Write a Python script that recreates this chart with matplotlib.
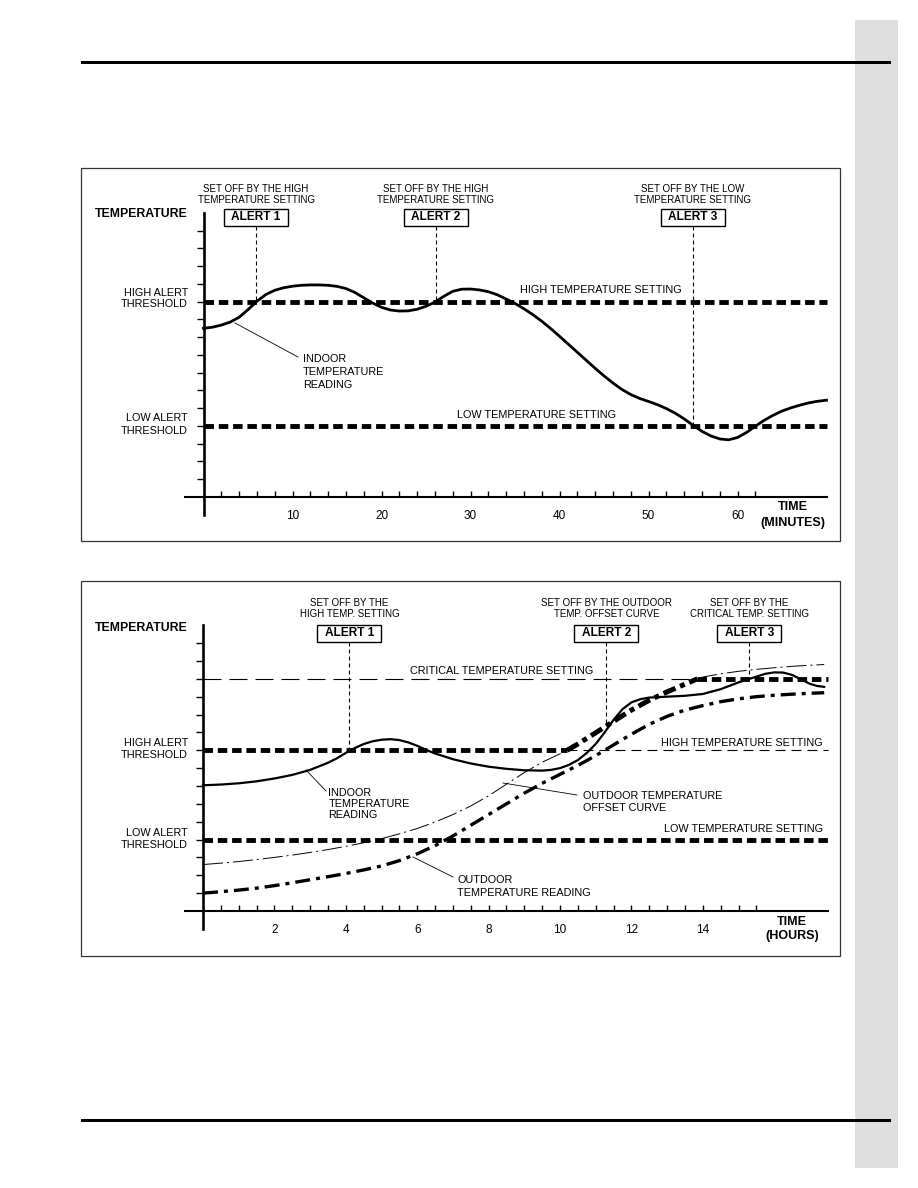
import numpy as np
import matplotlib
matplotlib.use("Agg")
import matplotlib.pyplot as plt
import matplotlib.transforms as mtransforms
from matplotlib.patches import Rectangle

plt.rcParams['font.family'] = ['Liberation Sans', 'DejaVu Sans']

# top chart: indoor temperature against time in minutes (tick units on the y axis)
minutes = list(range(0, 71))
indoor_min = [9.5, 9.56, 9.68, 9.85, 10.12, 10.55, 11.02, 11.4, 11.64, 11.78,
              11.87, 11.92, 11.94, 11.94, 11.92, 11.86, 11.74, 11.52, 11.22, 10.92,
              10.68, 10.53, 10.47, 10.48, 10.57, 10.74, 10.97, 11.3, 11.58, 11.7,
              11.71, 11.66, 11.56, 11.39, 11.15, 10.9, 10.6, 10.27, 9.9, 9.49,
              9.05, 8.6, 8.15, 7.7, 7.25, 6.82, 6.42, 6.06, 5.77, 5.55,
              5.38, 5.2, 4.98, 4.72, 4.4, 4.04, 3.7, 3.44, 3.27, 3.22,
              3.35, 3.63, 3.98, 4.32, 4.6, 4.84, 5.02, 5.17, 5.3, 5.39, 5.45]
min_ticks = np.arange(2, 63, 2)
min_labels = [10, 20, 30, 40, 50, 60]
min_end = 70.1
high_min = 11
low_min = 4
alerts_min = [5.9, 26.1, 55.0]
alerts_min_level = [high_min, high_min, low_min]
alerts_min_note = [("SET OFF BY THE HIGH", "TEMPERATURE SETTING"),
                   ("SET OFF BY THE HIGH", "TEMPERATURE SETTING"),
                   ("SET OFF BY THE LOW", "TEMPERATURE SETTING")]

# bottom chart: time in hours
hours_in = [0, 0.5, 1, 1.5, 2, 2.5, 3, 3.5, 3.75, 4, 4.25, 4.5, 4.75, 5, 5.25,
            5.5, 5.75, 6, 6.25, 6.5, 7, 7.5, 8, 8.5, 9, 9.5, 9.75, 10, 10.25,
            10.5, 10.75, 11, 11.25, 11.5, 11.75, 12, 12.25, 12.5, 13, 13.5, 14,
            14.5, 15, 15.5, 15.75, 16, 16.25, 16.5, 16.75, 17, 17.2, 17.4]
indoor_hr = [7.04, 7.08, 7.15, 7.26, 7.42, 7.62, 7.9, 8.3, 8.55, 8.85, 9.12,
             9.35, 9.5, 9.59, 9.62, 9.57, 9.44, 9.25, 9.02, 8.82, 8.5, 8.26,
             8.08, 7.96, 7.88, 7.86, 7.9, 8.0, 8.18, 8.45, 8.85, 9.35, 10.0,
             10.7, 11.3, 11.68, 11.86, 11.95, 12.0, 12.05, 12.15, 12.42, 12.8,
             13.12, 13.28, 13.36, 13.35, 13.22, 12.97, 12.72, 12.6, 12.55]
hours = [0, 0.5, 1, 1.5, 2, 2.5, 3, 3.5, 4, 4.5, 5, 5.5, 6, 6.5, 7, 7.5, 8, 8.5,
         9, 9.5, 10, 10.5, 11, 11.5, 12, 12.5, 13, 13.5, 14, 14.5, 15, 15.5, 16,
         16.5, 17, 17.4]
outdoor_hr = [1.0, 1.08, 1.17, 1.28, 1.42, 1.58, 1.75, 1.92, 2.1, 2.3, 2.52, 2.82,
              3.2, 3.66, 4.2, 4.8, 5.4, 6.0, 6.6, 7.15, 7.65, 8.15, 8.7, 9.3, 9.9,
              10.45, 10.9, 11.25, 11.5, 11.72, 11.88, 12.0, 12.08, 12.14, 12.19,
              12.22]
hours_off = [0, 0.5, 1, 1.5, 2, 2.5, 3, 3.5, 4, 4.5, 5, 5.5, 6, 6.5, 7, 7.5, 8,
             8.5, 9, 9.5, 10, 10.2, 10.5, 11, 11.5, 12, 12.5, 13, 13.5, 13.85, 14,
             14.5, 15, 15.5, 16, 16.5, 17, 17.4]
offset_hr = [2.6, 2.68, 2.77, 2.88, 3.0, 3.13, 3.28, 3.44, 3.62, 3.82, 4.05, 4.32,
             4.62, 4.98, 5.4, 5.88, 6.45, 7.1, 7.75, 8.33, 8.8, 9.0, 9.35, 9.98,
             10.62, 11.25, 11.8, 12.27, 12.7, 13.0, 13.1, 13.28, 13.42, 13.53,
             13.62, 13.7, 13.76, 13.8]
hr_ticks = np.arange(0.5, 15.6, 0.5)
hr_labels = [2, 4, 6, 8, 10, 12, 14]
hr_end = 17.5
high_hr = 9
low_hr = 4
crit_hr = 13
offset_on = 10.2     # offset curve climbs past the high setting
offset_off = 13.85   # offset curve reaches the critical setting
alerts_hr = [4.1, 11.3, 15.3]
alerts_hr_note = [("SET OFF BY THE", "HIGH TEMP. SETTING"),
                  ("SET OFF BY THE OUTDOOR", "TEMP. OFFSET CURVE"),
                  ("SET OFF BY THE", "CRITICAL TEMP. SETTING")]

W, H = 918, 1188
fig = plt.figure(figsize=(W / 100, H / 100), dpi=100)
# pixel coordinates measured from the top left corner of the page
pix = mtransforms.Affine2D().scale(1, -1).translate(0, H)


def dash(lw, *px):
    # dash lengths in pixels -> multiples of the line width
    lw_px = lw * 100 / 72
    return [p / lw_px for p in px]


THICK = dict(color='k', lw=3.5, dashes=dash(3.5, 9.5, 4.8))
CRIT_THIN = dict(color='k', lw=0.8, dashes=dash(0.8, 18, 8))
HIGH_THIN = dict(color='k', lw=0.8, dashes=dash(0.8, 10, 6))
VERT = dict(color='k', lw=0.8, dashes=dash(0.8, 4, 3))
OFF_THIN = dict(color='k', lw=0.7, dashes=dash(0.7, 20, 4, 2, 4))
OFF_THICK = dict(color='k', lw=3.6, dashes=dash(3.6, 13, 5, 5, 5))
OUTDOOR = dict(color='k', lw=2.4, dashes=dash(2.4, 15, 6, 4, 6))

# page furniture
fig.add_artist(Rectangle((855, 20), 43, 1148, transform=pix, fc='#dedede', ec='none'))
fig.add_artist(Rectangle((81, 60.5), 810, 3, transform=pix, fc='k', ec='none'))
fig.add_artist(Rectangle((81, 1119), 810, 3, transform=pix, fc='k', ec='none'))


def chart(box, x0, y0, sx, sy, xbounds, ticks, labels):
    l, t, r, b = box
    ax = fig.add_axes([l / W, 1 - b / H, (r - l) / W, (b - t) / H])
    ax.set_xlim((l - x0) / sx, (r - x0) / sx)
    ax.set_ylim((y0 - b) / sy, (y0 - t) / sy)
    ax.patch.set_visible(False)
    for side in ('top', 'right'):
        ax.spines[side].set_visible(False)
    ax.spines['left'].set_position(('data', 0))
    ax.spines['bottom'].set_position(('data', 0))
    ax.spines['left'].set_bounds(-1, 16)
    ax.spines['bottom'].set_bounds(*xbounds)
    ax.spines['left'].set_linewidth(1.9)
    ax.spines['bottom'].set_linewidth(1.5)
    ax.set_yticks(range(1, 16))
    ax.set_yticklabels([])
    ax.set_xticks(ticks)
    ax.set_xticklabels([f"{t:g}" if t in labels else "" for t in ticks])
    ax.tick_params(axis='y', direction='out', length=5, width=1.0)
    ax.tick_params(axis='x', direction='in', length=4, width=1.0, pad=9.5,
                   labelsize=8.5)
    ax.add_patch(Rectangle((0, 0), 1, 1, transform=ax.transAxes, fill=False,
                           ec='#333333', lw=0.9, clip_on=False))
    return ax


def to_px(ax, x, y):
    dx, dy = ax.transData.transform((x, y))
    return dx, H - dy


def say(ax, x, y, s, size=7.8, ha='left', weight='normal'):
    ax.text(x, y, s, transform=pix, ha=ha, va='center', fontsize=size,
            fontweight=weight)


def leader(ax, x1, y1, x2, y2):
    ax.plot([x1, x2], [y1, y2], transform=pix, color='k', lw=0.6, clip_on=False)


def alert(ax, n, x, level, note, box_top, note_y):
    px, py = to_px(ax, x, level)
    ax.add_patch(Rectangle((px - 32, box_top), 64, 17, transform=pix, fc='white',
                           ec='k', lw=1.0, clip_on=False))
    say(ax, px, box_top + 8.5, f"ALERT {n}", 8.6, 'center', 'bold')
    for s, y in zip(note, note_y):
        say(ax, px, y, s, 7.0, 'center')
    ax.plot([px, px], [box_top + 17, py], transform=pix, **VERT)


# ---------------- top chart ----------------
ax1 = chart((81, 168, 840, 541), 203.5, 497, 8.9, 17.76, (-2.1, min_end),
            min_ticks, min_labels)
ax1.plot([0, min_end], [high_min, high_min], **THICK)
ax1.plot([0, min_end], [low_min, low_min], **THICK)
ax1.plot(minutes, indoor_min, color='k', lw=2.0, solid_joinstyle='round')
for i, (x, lev, note) in enumerate(zip(alerts_min, alerts_min_level, alerts_min_note)):
    alert(ax1, i + 1, x, lev, note, 209, (189, 200))

say(ax1, 188, 214, "TEMPERATURE", 8.8, 'right', 'bold')
say(ax1, 188, 292.7, "HIGH ALERT", 7.8, 'right')
say(ax1, 188, 304.3, "THRESHOLD", 7.8, 'right')
say(ax1, 188, 418.3, "LOW ALERT", 7.8, 'right')
say(ax1, 188, 430.7, "THRESHOLD", 7.8, 'right')
say(ax1, 520, 290, "HIGH TEMPERATURE SETTING")
say(ax1, 457, 415, "LOW TEMPERATURE SETTING")
for s, y in zip(["INDOOR", "TEMPERATURE", "READING"], [359.5, 372.3, 385]):
    say(ax1, 302.7, y, s)
leader(ax1, 235, 323, 298, 357)
say(ax1, 793, 507, "TIME", 9, 'center', 'bold')
say(ax1, 793, 523, "(MINUTES)", 9, 'center', 'bold')

# ---------------- bottom chart ----------------
ax2 = chart((81, 581, 840, 956), 203, 911, 35.7, 17.86, (-0.5, hr_end),
            hr_ticks, hr_labels)
hours_off = np.array(hours_off)
offset_hr = np.array(offset_hr)
ax2.plot([0, offset_off], [crit_hr, crit_hr], **CRIT_THIN)
ax2.plot([offset_off, hr_end], [crit_hr, crit_hr], **THICK)
ax2.plot([0, offset_on], [high_hr, high_hr], **THICK)
ax2.plot([offset_on, hr_end], [high_hr, high_hr], **HIGH_THIN)
ax2.plot([0, hr_end], [low_hr, low_hr], **THICK)
lo = hours_off <= offset_on
mid = (hours_off >= offset_on) & (hours_off <= offset_off)
hi = hours_off >= offset_off
ax2.plot(hours_off[lo], offset_hr[lo], **OFF_THIN)
ax2.plot(hours_off[hi], offset_hr[hi], **OFF_THIN)
ax2.plot(hours, outdoor_hr, **OUTDOOR)
ax2.plot(hours_in, indoor_hr, color='k', lw=1.6, solid_joinstyle='round')
ax2.plot(hours_off[mid], offset_hr[mid], **OFF_THICK)

alerts_hr_level = [high_hr, np.interp(alerts_hr[1], hours_off, offset_hr), crit_hr]
for i, (x, lev, note) in enumerate(zip(alerts_hr, alerts_hr_level, alerts_hr_note)):
    alert(ax2, i + 1, x, lev, note, 625, (603.3, 614))

say(ax2, 188, 628.3, "TEMPERATURE", 8.8, 'right', 'bold')
say(ax2, 188, 743.3, "HIGH ALERT", 7.8, 'right')
say(ax2, 188, 755, "THRESHOLD", 7.8, 'right')
say(ax2, 188, 832.7, "LOW ALERT", 7.8, 'right')
say(ax2, 188, 844.7, "THRESHOLD", 7.8, 'right')
say(ax2, 410.5, 670.7, "CRITICAL TEMPERATURE SETTING")
say(ax2, 660.7, 743.3, "HIGH TEMPERATURE SETTING")
say(ax2, 664, 829.3, "LOW TEMPERATURE SETTING")
for s, y in zip(["INDOOR", "TEMPERATURE", "READING"], [793.3, 804.3, 815.5]):
    say(ax2, 328.3, y, s)
say(ax2, 582.7, 796, "OUTDOOR TEMPERATURE")
say(ax2, 582.7, 807.7, "OFFSET CURVE")
say(ax2, 457.3, 880, "OUTDOOR")
say(ax2, 457.3, 892.7, "TEMPERATURE READING")
leader(ax2, 306, 770, 326, 791)
leader(ax2, 503, 783, 577, 795)
leader(ax2, 413, 857, 453, 877)
say(ax2, 792, 921.7, "TIME", 9, 'center', 'bold')
say(ax2, 792, 935.7, "(HOURS)", 9, 'center', 'bold')

fig.savefig("out.png", dpi=100)
